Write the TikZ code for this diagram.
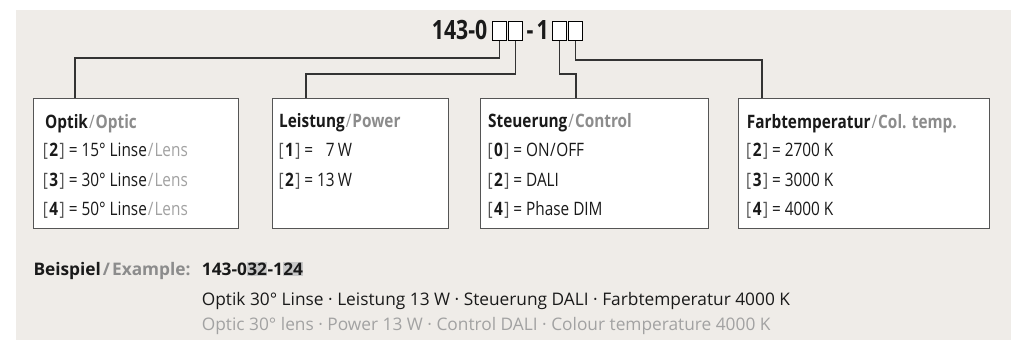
\documentclass[tikz,border=0pt]{standalone}
\usepackage{fontspec}
\setmainfont{Open Sans}
\newfontfamily\condf{Open Sans}[FakeStretch=0.83]
\newfontfamily\titlef{Open Sans}[FakeStretch=0.8]
\usetikzlibrary{calc}
\definecolor{bg}{HTML}{EFECE8}
\definecolor{greyA}{HTML}{8C8C8C}
\definecolor{greyB}{HTML}{A2A2A2}
\definecolor{hlc}{HTML}{C9C9C9}
\definecolor{ink}{HTML}{1A1A1A}
\definecolor{linec}{HTML}{333333}
\definecolor{boxc}{HTML}{555555}
\newcommand\optl[2]{{\color{ink!75}[}\hspace{1.5pt}\textbf{#1}\hspace{1.5pt}{\color{ink!75}]} = #2}
\newcommand\gsl[1]{\hspace{1pt}{\color{greyA}/\hspace{1pt}\textbf{#1}}}
\newcommand\gsn[1]{\hspace{1pt}{\color{greyB}/\hspace{1pt}#1}}
\begin{document}
\begin{tikzpicture}[x=1pt,y=-1pt,
  panel/.style={draw=boxc, line width=1pt, fill=white, anchor=north west, inner sep=0pt},
  sq/.style={draw=black, line width=1pt, fill=white, anchor=north west, inner sep=0pt, minimum width=14pt, minimum height=19pt},
  conn/.style={draw=linec, line width=1.2pt},
  btxt/.style={anchor=base west, inner sep=0pt, text=ink, font=\condf\fontsize{18.5}{22}\selectfont},
  ttl/.style={inner sep=0pt, text=ink, font=\titlef\bfseries\fontsize{26.6}{30}\selectfont},
  ex/.style={anchor=base west, inner sep=0pt, text=ink, font=\fontsize{17.3}{20}\selectfont},
  exb/.style={anchor=base west, inner sep=0pt, text=ink, font=\bfseries\fontsize{17.3}{20}\selectfont},
  hl/.style={exb, fill=hlc, inner ysep=0.8pt, text height=12.6pt, text depth=0.6pt}
]
\useasboundingbox (0,0) rectangle (1011,340);
\fill[white] (0,0) rectangle (1011,340);
\fill[bg] (16,10) rectangle (1011,340);

% title
\node[ttl, anchor=base east] (t1) at (487.5,39.5) {143-0};
\node[sq] (s1) at (492,21) {};
\node[sq] (s2) at (508,21) {};
\node[ttl, anchor=base] (t2) at (530,39.5) {-};
\node[ttl, anchor=base east] (t3) at (549,39.5) {1};
\node[sq] (s3) at (552,21) {};
\node[sq] (s4) at (568,21) {};

% panels
\node[panel, minimum width=205pt, minimum height=130pt] (optik) at (32.7,98.3) {};
\node[panel, minimum width=175.4pt, minimum height=130.7pt] (leist) at (272.3,97.5) {};
\node[panel, minimum width=228.3pt, minimum height=130pt] (steu) at (480,98.3) {};
\node[panel, minimum width=251pt, minimum height=130pt] (farb) at (738.3,98.3) {};

\coordinate (k1) at ($(optik.north west)+(42.3,0)$);
\coordinate (k2) at ($(leist.north west)+(33.7,0)$);
\coordinate (k3) at ($(steu.north west)+(96,0)$);
\coordinate (k4) at ($(farb.north west)+(23.7,0)$);

\draw[conn] (s1.south) -- ++(0,17) -| (k1);
\draw[conn] (s2.south) -- ++(0,33) -| (k2);
\draw[conn] (s3.south) -- ++(0,33) -| (k3);
\draw[conn] (s4.south) -- ++(0,19) -| (k4);

% Optik
\node[btxt] (o0) at (45,128.3) {\textbf{Optik}\gsl{Optic}};
\node[btxt] (o1) at (42.7,156.7) {\optl{2}{15° Linse\gsn{Lens}}};
\node[btxt] (o2) at (42.7,186) {\optl{3}{30° Linse\gsn{Lens}}};
\node[btxt] (o3) at (42.7,215) {\optl{4}{50° Linse\gsn{Lens}}};
% Leistung
\node[btxt] (l0) at (279,127.5) {\textbf{Leistung}\gsl{Power}};
\node[btxt] (l1) at (278.3,156.7) {\optl{1}{\phantom{1}7\,W}};
\node[btxt] (l2) at (278.3,186) {\optl{2}{13\,W}};
% Steuerung
\node[btxt] (c0) at (488,127.5) {\textbf{Steuerung}\gsl{Control}};
\node[btxt] (c1) at (487.3,156.7) {\optl{0}{ON\hspace{0.5pt}/\hspace{0.5pt}OFF}};
\node[btxt] (c2) at (487.3,186) {\optl{2}{DALI}};
\node[btxt] (c3) at (487.3,215) {\optl{4}{Phase DIM}};
% Farbtemperatur
\node[btxt] (f0) at (746.7,128.3) {\textbf{Farbtemperatur}\gsl{Col. temp.}};
\node[btxt] (f1) at (746,156.7) {\optl{2}{2700 K}};
\node[btxt] (f2) at (746,186) {\optl{3}{3000 K}};
\node[btxt] (f3) at (746,215) {\optl{4}{4000 K}};

% example
\node[exb] (b0) at (33.3,275) {Beispiel\hspace{2pt}{\color{greyA}/\hspace{2pt}Example:}};
\node[exb] (b1) at (201.7,275) {143-0};
\node[hl] (b2) at (b1.base east) {32};
\node[exb] (b3) at (b2.base east) {-1};
\node[hl] (b4) at (b3.base east) {24};
\node[ex] (d1) at (201.7,305) {Optik 30° Linse · Leistung 13 W · Steuerung DALI · Farbtemperatur 4000 K};
\node[ex, text=greyB] (d2) at (201.7,330.5) {Optic 30° lens · Power 13 W · Control DALI · Colour temperature 4000 K};
\end{tikzpicture}
\end{document}
